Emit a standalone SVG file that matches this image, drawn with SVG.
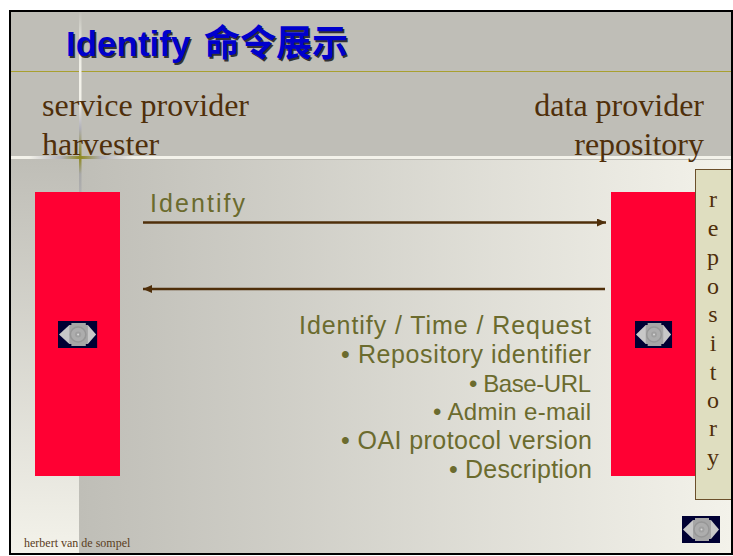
<svg xmlns="http://www.w3.org/2000/svg" width="733" height="556" viewBox="0 0 733 556">
<defs>
<linearGradient id="bgH" x1="0" x2="1" y1="0" y2="0"><stop offset="0" stop-color="#bfbeb7"/><stop offset="1" stop-color="#f3f2ea"/></linearGradient>
<linearGradient id="bgV" x1="0" x2="0" y1="0" y2="1"><stop offset="0" stop-color="#bfbeb7"/><stop offset="1" stop-color="#f3f2ea"/></linearGradient>
<linearGradient id="hl" x1="0" x2="1" y1="0" y2="0"><stop offset="0" stop-color="#f3f2ea"/><stop offset="0.025" stop-color="#f3f2ea"/><stop offset="0.07" stop-color="#b0b0b8"/><stop offset="0.096" stop-color="#8f8a20"/><stop offset="0.125" stop-color="#b0b0b8"/><stop offset="0.17" stop-color="#f3f2ea"/><stop offset="1" stop-color="#f3f2ea"/></linearGradient>
<linearGradient id="vl" x1="0" x2="0" y1="0" y2="1"><stop offset="0" stop-color="#c0bfb8"/><stop offset="0.2" stop-color="#e8e8e0"/><stop offset="0.35" stop-color="#f3f2ea"/><stop offset="0.5" stop-color="#f3f2ea"/><stop offset="0.65" stop-color="#b0b0b8"/><stop offset="0.81" stop-color="#8f8a20"/><stop offset="0.9" stop-color="#a8a8a8"/><stop offset="1" stop-color="#b0b0b0"/></linearGradient>
<marker id="ah" markerUnits="userSpaceOnUse" markerWidth="10" markerHeight="10" refX="9" refY="4" orient="auto"><path d="M0 0L9 4L0 8Z" fill="#4f2f0a"/></marker>
<g id="eye">
<rect x="0" y="0" width="38" height="27" fill="#000033"/>
<path d="M1 13.500L11 4H29L37 13.500L29 23H11Z" fill="#c8c8c8"/>
<path d="M11 4H13V2H27V4H29V23H27V25H13V23H11Z" fill="#a6a6a6"/>
<circle cx="19.500" cy="13.500" r="7.500" fill="#adadad" stroke="#979797" stroke-width="1.500"/>
<circle cx="19.500" cy="13.500" r="3" fill="#a0a0a0"/>
<circle cx="19.500" cy="13.500" r="1" fill="#d8d8d8"/>
</g>
</defs>
<style>
.b{font-family:"Liberation Serif",serif;font-size:32px;fill:#4f2f0a}
.c{font-family:"Liberation Sans",sans-serif;font-size:25px;fill:#6b6b2e}
.s{font-size:24px}
.v{font-family:"Liberation Serif",serif;font-size:24px;fill:#4f2f0a;text-anchor:middle}
.t{font-family:"Liberation Sans","Noto Sans CJK SC",sans-serif;font-weight:700}
</style>
<rect width="733" height="556" fill="#fff"/>
<g id="background">
<rect x="11" y="11" width="720" height="542" fill="#bfbeb7"/>
<rect x="79" y="160" width="652" height="393" fill="url(#bgH)"/>
<rect x="11" y="160" width="68" height="393" fill="url(#bgV)"/>
<rect x="11" y="71" width="720" height="1" fill="#a8a030"/>
<rect x="11" y="156" width="720" height="3" fill="url(#hl)"/>
<rect x="79" y="11" width="2.500" height="181" fill="url(#vl)"/>
</g>
<g id="title"><g fill="#333" transform="translate(1.500 1.500)"><text class="t" x="66" y="56" font-size="35">Identify</text><text class="t" x="204" y="56" font-size="36">命令展示</text></g><g fill="#0000cc"><text class="t" x="66" y="56" font-size="35">Identify</text><text class="t" x="204" y="56" font-size="36">命令展示</text></g></g>
<g id="left-labels"><text class="b" x="42" y="116">service provider</text><text class="b" x="42" y="155">harvester</text></g>
<g id="right-labels"><text class="b" x="704" y="116" text-anchor="end">data provider</text><text class="b" x="704" y="155" text-anchor="end">repository</text></g>
<g id="service-provider"><rect x="35" y="192" width="85" height="284" fill="#ff0033"/><use href="#eye" transform="translate(58 321) scale(1.030 1)"/></g>
<g id="data-provider"><rect x="611" y="192" width="85" height="284" fill="#ff0033"/><use href="#eye" transform="translate(635 321) scale(0.975 1)"/></g>
<g id="repository"><rect x="695.500" y="169.500" width="36" height="330" fill="#dfdec0" stroke="#6b4f2a" stroke-width="1"/>
<text class="v" x="713" y="207">r</text><text class="v" x="713" y="236">e</text><text class="v" x="713" y="265">p</text><text class="v" x="713" y="294">o</text><text class="v" x="713" y="322">s</text><text class="v" x="713" y="351">i</text><text class="v" x="713" y="380">t</text><text class="v" x="713" y="408">o</text><text class="v" x="713" y="436">r</text><text class="v" x="713" y="465">y</text></g>
<g id="connectors" stroke="#4f2f0a" stroke-width="2.500" fill="none"><line x1="143" y1="222.500" x2="606" y2="222.500" marker-end="url(#ah)"/><line x1="605" y1="289" x2="143" y2="289" marker-end="url(#ah)"/></g>
<g id="labels"><text class="c" x="150" y="212" textLength="95">Identify</text>
<text class="c" x="299" y="334" textLength="292">Identify / Time / Request</text>
<text class="c" x="341" y="363" textLength="250">• Repository identifier</text>
<text class="c s" x="469" y="392" textLength="122">• Base-URL</text>
<text class="c s" x="433" y="420" textLength="158">• Admin e-mail</text>
<text class="c" x="341" y="449" textLength="251">• OAI protocol version</text>
<text class="c" x="449" y="478" textLength="143">• Description</text></g>
<g id="footer"><text x="24" y="547" font-family="'Liberation Serif',serif" font-size="12" fill="#5a3d1c">herbert van de sompel</text></g>
<g id="nav"><use href="#eye" x="682" y="516"/></g>
<rect x="10" y="11" width="722" height="543" fill="none" stroke="#000" stroke-width="2"/>
</svg>
